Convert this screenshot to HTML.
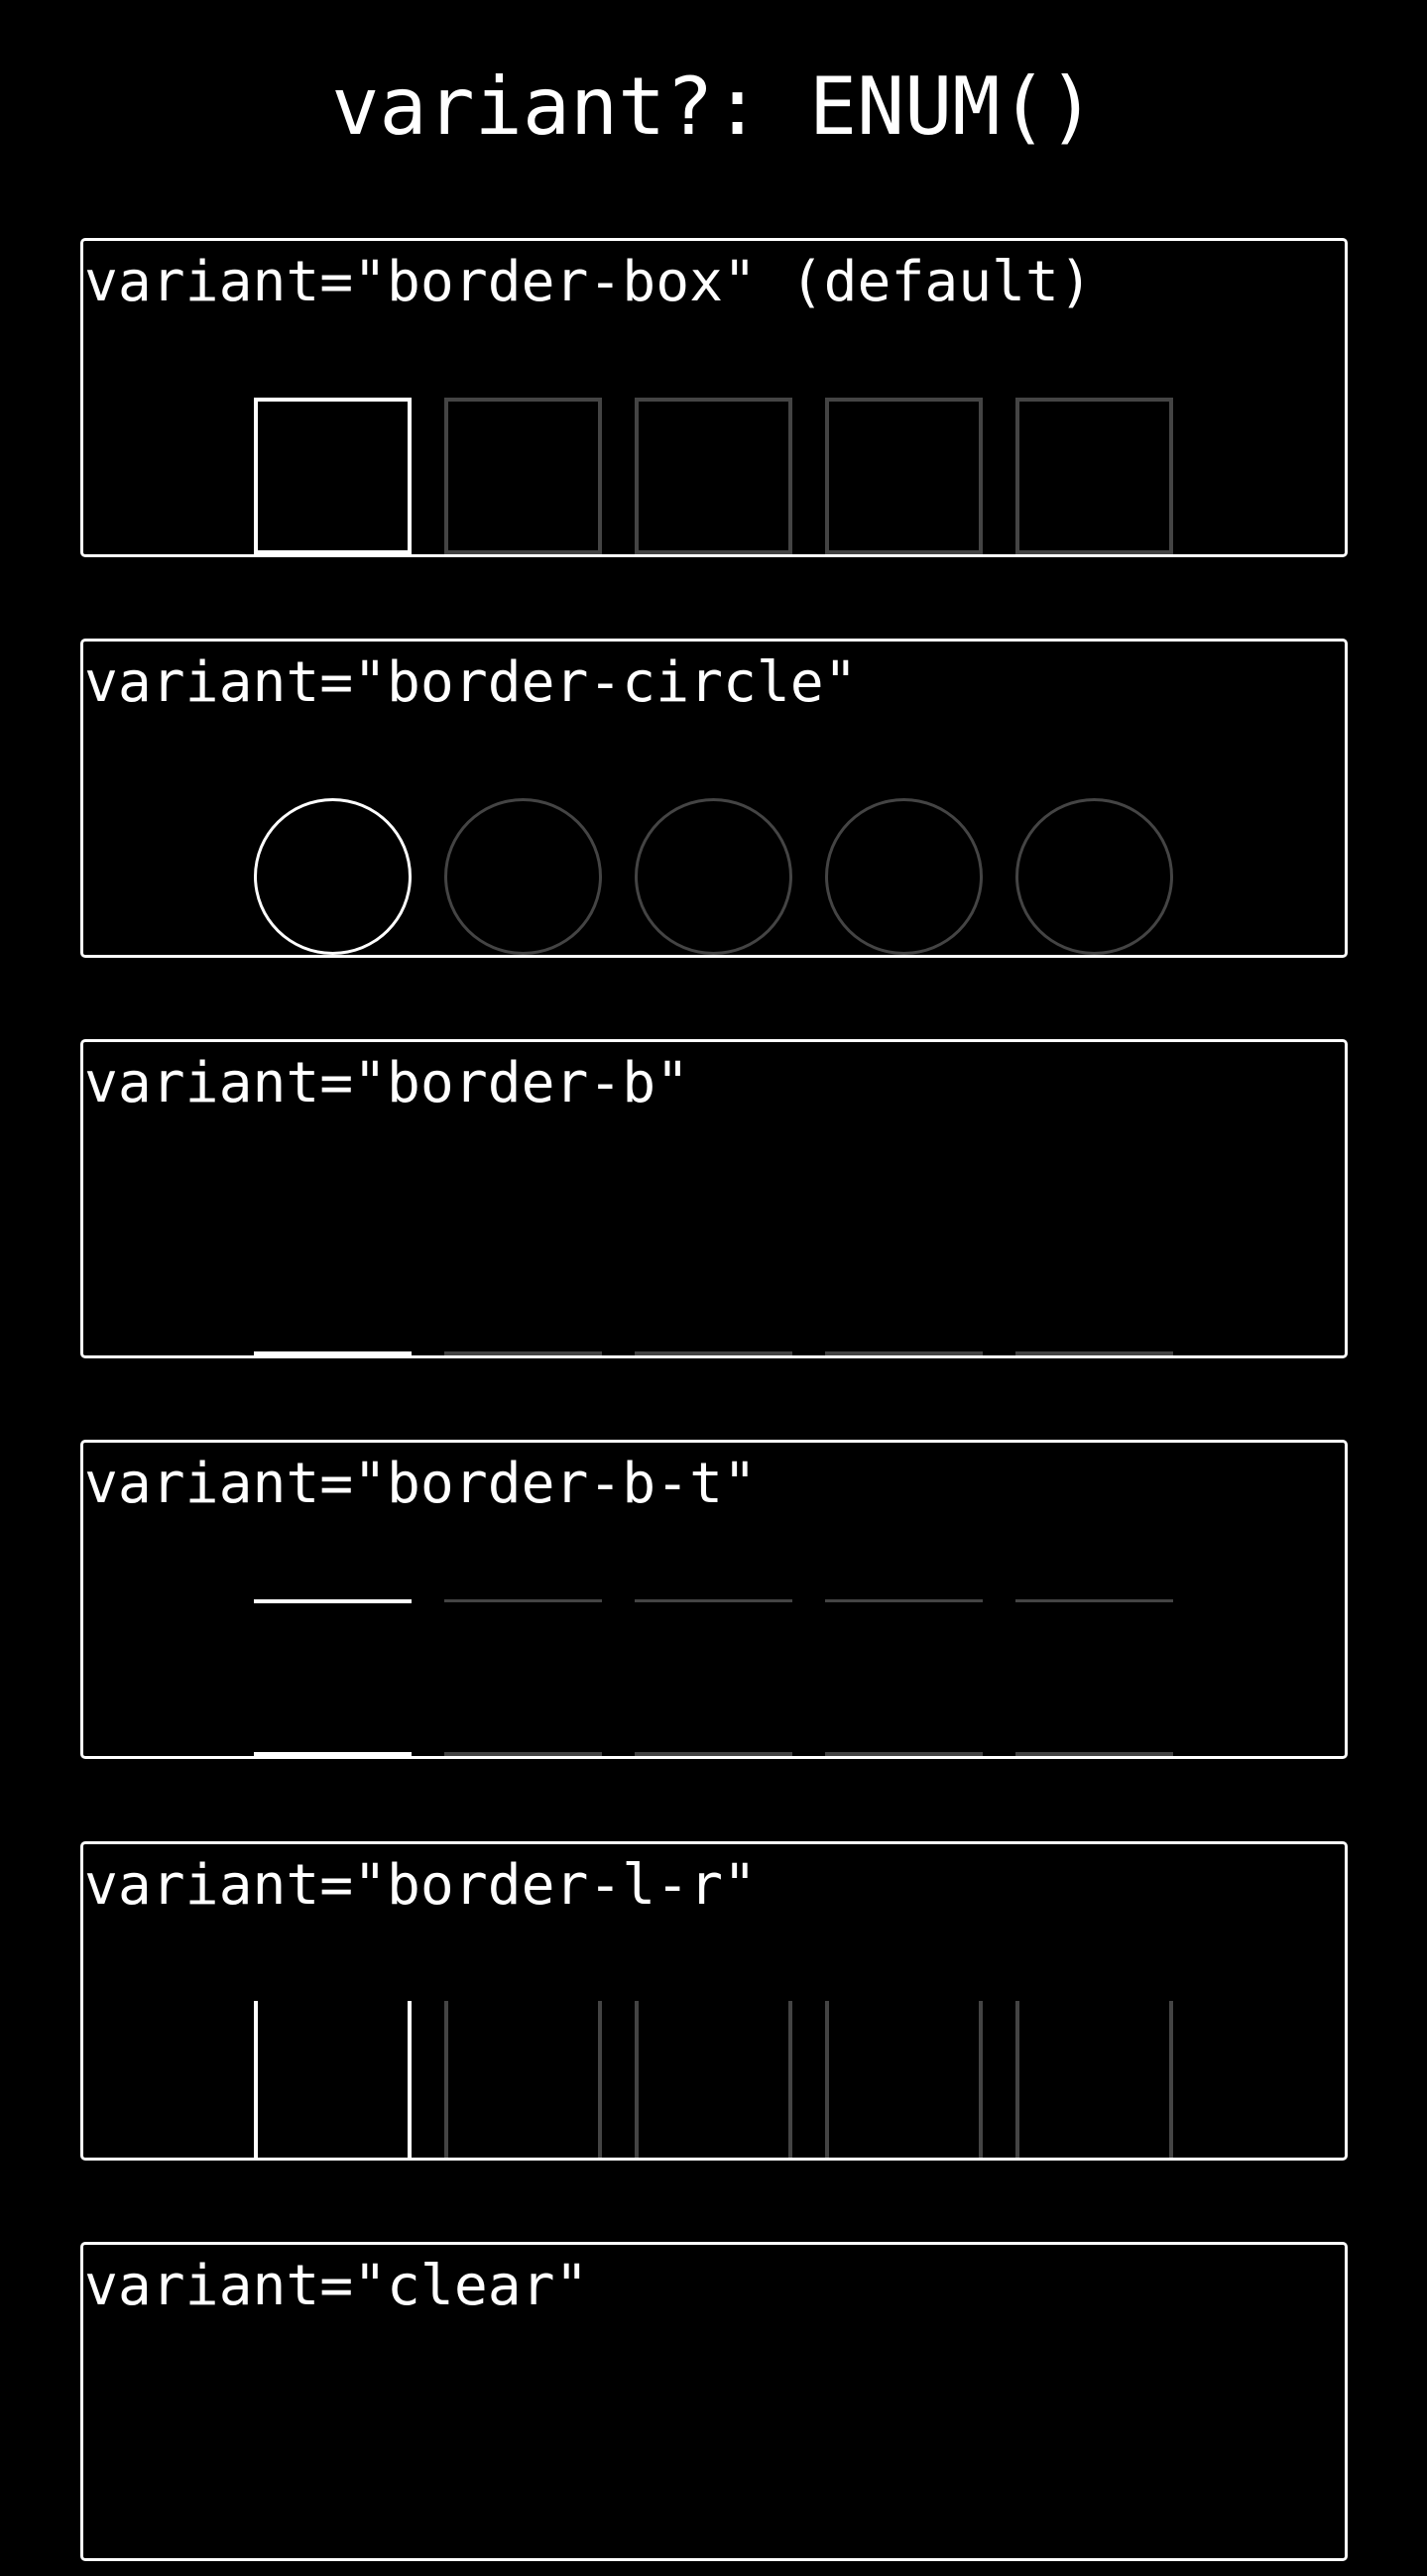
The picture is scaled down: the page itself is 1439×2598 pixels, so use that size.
<!DOCTYPE html>
<html><head><meta charset="utf-8"><style>
html,body{margin:0;padding:0;background:#000;}
body{width:1439px;height:2598px;position:relative;overflow:hidden;font-family:"DejaVu Sans Mono","Liberation Mono",monospace;color:#fff;}
.title{position:absolute;left:0;width:1439px;text-align:center;top:58px;font-size:80px;line-height:100px;white-space:pre;}
.box{position:absolute;left:81px;width:1272px;height:316px;border:3px solid #fff;border-radius:5px;}
.lab{position:absolute;left:1px;top:7px;font-size:56.3px;line-height:70px;white-space:pre;}
.it{position:absolute;top:158px;width:159px;height:158px;box-sizing:border-box;}
</style></head><body>
<div class="title">variant?: ENUM()</div>

<div class="box" style="top:240px"><div class="lab">variant="border-box" (default)</div>
<div class="it" style="left:172px;border:4px solid #fff"></div>
<div class="it" style="left:364px;border:4px solid #444"></div>
<div class="it" style="left:556px;border:4px solid #444"></div>
<div class="it" style="left:748px;border:4px solid #444"></div>
<div class="it" style="left:940px;border:4px solid #444"></div>
</div>

<div class="box" style="top:644px"><div class="lab">variant="border-circle"</div>
<div class="it" style="left:172px;border:3px solid #fff;border-radius:50%"></div>
<div class="it" style="left:364px;border:3px solid #444;border-radius:50%"></div>
<div class="it" style="left:556px;border:3px solid #444;border-radius:50%"></div>
<div class="it" style="left:748px;border:3px solid #444;border-radius:50%"></div>
<div class="it" style="left:940px;border:3px solid #444;border-radius:50%"></div>
</div>

<div class="box" style="top:1048px"><div class="lab">variant="border-b"</div>
<div class="it" style="left:172px;border-bottom:4px solid #fff"></div>
<div class="it" style="left:364px;border-bottom:4px solid #444"></div>
<div class="it" style="left:556px;border-bottom:4px solid #444"></div>
<div class="it" style="left:748px;border-bottom:4px solid #444"></div>
<div class="it" style="left:940px;border-bottom:4px solid #444"></div>
</div>

<div class="box" style="top:1452px"><div class="lab">variant="border-b-t"</div>
<div class="it" style="left:172px;border-bottom:4px solid #fff;border-top:4px solid #fff"></div>
<div class="it" style="left:364px;border-bottom:4px solid #444;border-top:3px solid #444"></div>
<div class="it" style="left:556px;border-bottom:4px solid #444;border-top:3px solid #444"></div>
<div class="it" style="left:748px;border-bottom:4px solid #444;border-top:3px solid #444"></div>
<div class="it" style="left:940px;border-bottom:4px solid #444;border-top:3px solid #444"></div>
</div>

<div class="box" style="top:1857px"><div class="lab">variant="border-l-r"</div>
<div class="it" style="left:172px;border-left:4px solid #fff;border-right:4px solid #fff"></div>
<div class="it" style="left:364px;border-left:4px solid #444;border-right:4px solid #444"></div>
<div class="it" style="left:556px;border-left:4px solid #444;border-right:4px solid #444"></div>
<div class="it" style="left:748px;border-left:4px solid #444;border-right:4px solid #444"></div>
<div class="it" style="left:940px;border-left:4px solid #444;border-right:4px solid #444"></div>
</div>

<div class="box" style="top:2261px"><div class="lab">variant="clear"</div></div>
</body></html>
